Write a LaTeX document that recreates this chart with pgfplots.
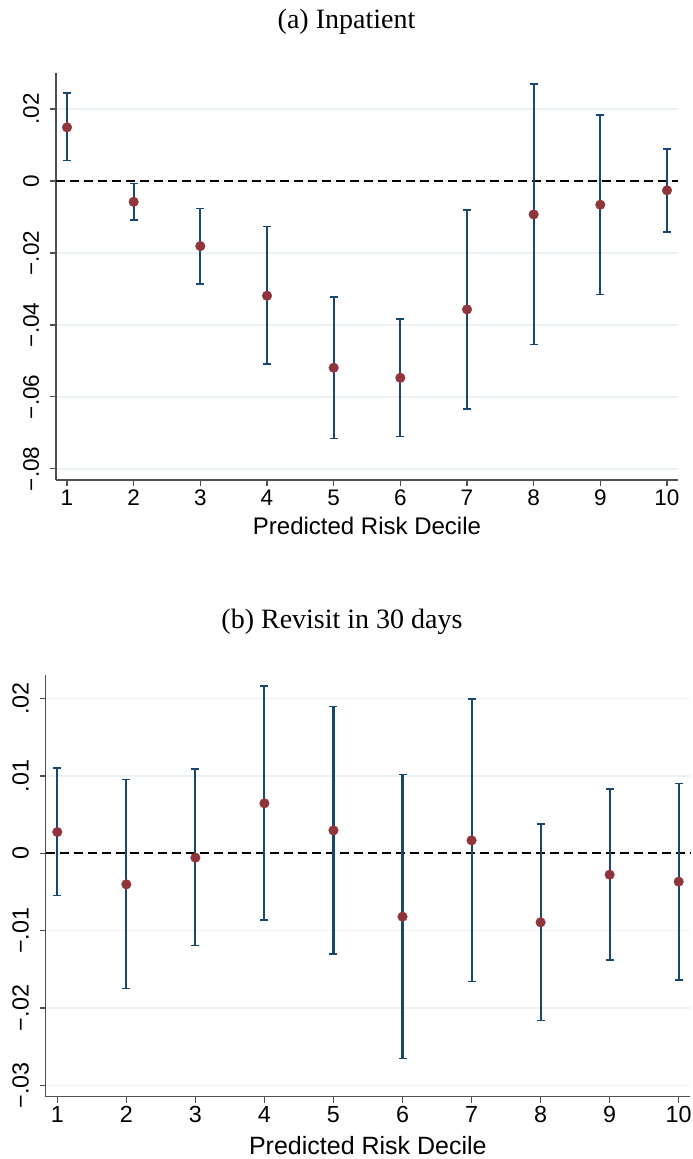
\documentclass[border=0pt]{standalone}
\usepackage{pgfplots}
\usepackage{pgfplotstable}
\pgfplotsset{compat=1.18}
\usepackage{fontspec}
\setmainfont{Liberation Sans}
\newfontfamily\titlefont{Liberation Serif}
\definecolor{navy}{RGB}{26,71,111}
\definecolor{maroon}{RGB}{144,53,59}
\definecolor{gridc}{RGB}{234,242,243}
\definecolor{axisc}{RGB}{80,80,80}

\pgfplotstableread{
x y lo hi
1 0.0149 0.0057 0.0244
2 -0.0058 -0.0108 -0.0007
3 -0.0181 -0.0286 -0.0076
4 -0.0319 -0.0509 -0.0126
5 -0.0519 -0.0716 -0.0323
6 -0.0547 -0.0710 -0.0383
7 -0.0357 -0.0634 -0.0080
8 -0.0093 -0.0454 0.0269
9 -0.0066 -0.0315 0.0184
10 -0.0026 -0.0141 0.0089
}\inpatient

\pgfplotstableread{
x y lo hi
1 0.00276 -0.00547 0.01100
2 -0.00401 -0.01750 0.00953
3 -0.00056 -0.01194 0.01090
4 0.00647 -0.00862 0.02164
5 0.00297 -0.01302 0.01897
6 -0.00819 -0.02655 0.01017
7 0.00168 -0.01659 0.01996
8 -0.00892 -0.02160 0.00379
9 -0.00276 -0.01379 0.00832
10 -0.00366 -0.01638 0.00905
}\revisit

\pgfplotsset{
  stataaxis/.style={
    scale only axis,
    axis x line*=bottom,
    axis y line*=left,
    axis line style={axisc, line width=1.5bp},
    tick align=outside,
    major tick length=6bp,
    tick style={axisc, line width=1.2bp},
    ymajorgrids,
    major grid style={gridc, line width=1.5bp},
    xtick={1,2,3,4,5,6,7,8,9,10},
    xticklabels={1,2,3,4,5,6,7,8,9,10},
    scaled y ticks=false,
    yticklabel style={rotate=90, anchor=base, inner sep=0pt},
    yticklabel shift=11bp,
    clip=false,
  },
  errplot/.style={
    draw=none, mark=none, forget plot,
    error bars/.cd, y dir=both, y explicit,
    error bar style={draw=navy, line width=2.1bp},
    error mark options={draw=navy, rotate=90, mark size=4bp, line width=1.6bp},
  },
  ptplot/.style={only marks, mark=*, mark size=4.8bp, mark options={fill=maroon, draw=maroon}},
  zeroline/.style={black, dash pattern=on 9bp off 5bp, line width=1.9bp, forget plot},
}

\begin{document}
\begin{tikzpicture}
\path[use as bounding box] (0,0) rectangle (693bp,-1159bp);

\node[anchor=base, font=\titlefont\fontsize{28bp}{32bp}\selectfont] at (346.5bp,-28bp) {(a) Inpatient};
\node[anchor=base, font=\titlefont\fontsize{28bp}{32bp}\selectfont] at (342bp,-628bp) {(b) Revisit in 30 days};

\begin{axis}[stataaxis,
  at={(56bp,-480bp)}, anchor=south west,
  width=622bp, height=407bp,
  xmin=0.835, xmax=10.165, ymin=-0.0831, ymax=0.030,
  ytick={-0.08,-0.06,-0.04,-0.02,0,0.02},
  yticklabels={−.08,−.06,−.04,−.02,0,.02},
  ticklabel style={font=\fontsize{22.5bp}{26bp}\selectfont},
  xlabel={Predicted Risk Decile},
  xlabel style={font=\fontsize{24bp}{28bp}\selectfont, anchor=base, at={(axis description cs:0.5,0)}, yshift=-54.3bp},
]
\addplot[zeroline] coordinates {(0.835,0) (10.165,0)};
\addplot[errplot] table[x=x, y=y, y error plus expr=\thisrow{hi}-\thisrow{y}, y error minus expr=\thisrow{y}-\thisrow{lo}] {\inpatient};
\addplot[ptplot] table[x=x, y=y] {\inpatient};
\end{axis}

\begin{axis}[stataaxis,
  at={(45.7bp,-1096.7bp)}, anchor=south west,
  width=644.3bp, height=421.7bp,
  xmin=0.832, xmax=10.164, ymin=-0.03147, ymax=0.02306,
  ytick={-0.03,-0.02,-0.01,0,0.01,0.02},
  yticklabels={−.03,−.02,−.01,0,.01,.02},
  ticklabel style={font=\fontsize{23.3bp}{27bp}\selectfont},
  xlabel={Predicted Risk Decile},
  xlabel style={font=\fontsize{25bp}{29bp}\selectfont, anchor=base, at={(axis description cs:0.5,0)}, yshift=-57.6bp},
]
\addplot[zeroline] coordinates {(0.832,0) (10.164,0)};
\addplot[errplot] table[x=x, y=y, y error plus expr=\thisrow{hi}-\thisrow{y}, y error minus expr=\thisrow{y}-\thisrow{lo}] {\revisit};
\addplot[ptplot] table[x=x, y=y] {\revisit};
\end{axis}
\end{tikzpicture}
\end{document}
